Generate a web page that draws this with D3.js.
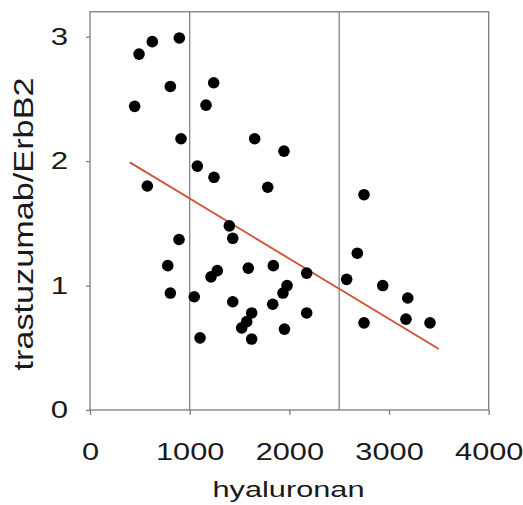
<!DOCTYPE html>
<html>
<head>
<meta charset="utf-8">
<script src="https://cdn.jsdelivr.net/npm/d3@7"></script>
<style>
  body { margin: 0; background: #fff; }
  text { font-family: "Liberation Sans", Arial, sans-serif; fill: #1a1a1a; }
</style>
</head>
<body>
<div id="chart"></div>
<script>
(function(d3) {
  'use strict';

  // data
  var hyaluronan = [492, 625, 896, 806, 1241, 448, 1164, 913, 1652, 1946,
    1077, 1244, 575, 1783, 1398, 1432, 893, 780, 1588, 1839,
    1214, 1277, 806, 1046, 1432, 1833, 1977, 1936, 1622, 1572,
    1522, 1622, 1104, 1951, 2749, 2682, 2174, 2575, 2937, 3188,
    2174, 2749, 3170, 3411];
  var ratio = [2.86, 2.96, 2.99, 2.60, 2.63, 2.44, 2.45, 2.18, 2.18, 2.08,
    1.96, 1.87, 1.80, 1.79, 1.48, 1.38, 1.37, 1.16, 1.14, 1.16,
    1.07, 1.12, 0.94, 0.91, 0.87, 0.85, 1.00, 0.94, 0.78, 0.71,
    0.66, 0.57, 0.58, 0.65, 1.73, 1.26, 1.10, 1.05, 1.00, 0.90,
    0.78, 0.70, 0.73, 0.70];
  var xTicks = [0, 1000, 2000, 3000, 4000];
  var yTicks = [0, 1, 2, 3];
  var refLines = [1000, 2500];
  var trendX = [400, 3500];
  var trendY = [1.99, 0.49];

  var width = 523;
  var height = 505;

  var x = d3.scaleLinear().domain([0, 4000]).range([90, 488.7]);
  var y = d3.scaleLinear().domain([0, 3.2]).range([410, 11.8]);

  var svg = d3.select('#chart')
    .append('svg')
    .attr('width', width)
    .attr('height', height);

  // glyphs in the picture are wider than Liberation Sans
  function stretch(sel, k) {
    sel.each(function() {
      var w = this.getComputedTextLength();
      d3.select(this)
        .attr('textLength', w * k)
        .attr('lengthAdjust', 'spacingAndGlyphs');
    });
  }

  // vertical reference lines
  svg.selectAll('.ref')
    .data(refLines)
    .enter()
    .append('line')
    .attr('class', 'ref')
    .attr('x1', function(d) { return x(d); })
    .attr('x2', function(d) { return x(d); })
    .attr('y1', y(0))
    .attr('y2', y(3.2))
    .attr('stroke', '#858585')
    .attr('stroke-width', 1.3);

  // frame
  svg.append('rect')
    .attr('x', x(0))
    .attr('y', y(3.2))
    .attr('width', x(4000) - x(0))
    .attr('height', y(0) - y(3.2))
    .attr('fill', 'none')
    .attr('stroke', '#7d7d7d')
    .attr('stroke-width', 1.3);

  var fmt = d3.format('d');

  var xAxis = svg.append('g')
    .attr('transform', 'translate(0,' + y(0) + ')')
    .call(d3.axisBottom(x).tickValues(xTicks).tickFormat(fmt).tickSize(5).tickSizeOuter(0));
  xAxis.select('.domain').remove();
  xAxis.selectAll('line').attr('stroke', '#7d7d7d').attr('stroke-width', 1.3);
  xAxis.attr('font-family', null).attr('font-size', null);
  xAxis.selectAll('text')
    .attr('y', 50)
    .attr('dy', null)
    .attr('fill', null)
    .style('font-size', '24px')
    .call(stretch, 1.28);

  var yAxis = svg.append('g')
    .attr('transform', 'translate(' + x(0) + ',0)')
    .call(d3.axisLeft(y).tickValues(yTicks).tickFormat(fmt).tickSize(4).tickPadding(18).tickSizeOuter(0));
  yAxis.select('.domain').remove();
  yAxis.selectAll('line').attr('stroke', '#7d7d7d').attr('stroke-width', 1.3);
  yAxis.attr('font-family', null).attr('font-size', null);
  yAxis.selectAll('text')
    .attr('fill', null)
    .style('font-size', '24px')
    .call(stretch, 1.3);

  // trend line
  svg.append('line')
    .attr('x1', x(trendX[0]))
    .attr('y1', y(trendY[0]))
    .attr('x2', x(trendX[1]))
    .attr('y2', y(trendY[1]))
    .attr('stroke', '#cf5230')
    .attr('stroke-width', 1.8);

  // points
  svg.selectAll('.dot')
    .data(hyaluronan)
    .enter()
    .append('circle')
    .attr('class', 'dot')
    .attr('cx', function(d) { return x(d); })
    .attr('cy', function(d, i) { return y(ratio[i]); })
    .attr('r', 5.8)
    .attr('fill', '#000');

  // axis titles
  svg.append('text')
    .attr('x', 288.5)
    .attr('y', 497)
    .attr('text-anchor', 'middle')
    .style('font-size', '21.5px')
    .attr('textLength', 152)
    .attr('lengthAdjust', 'spacingAndGlyphs')
    .text('hyaluronan');

  svg.append('text')
    .attr('transform', 'translate(33,224) rotate(-90)')
    .attr('text-anchor', 'middle')
    .style('font-size', '27px')
    .attr('textLength', 293)
    .attr('lengthAdjust', 'spacingAndGlyphs')
    .text('trastuzumab/ErbB2');

})(window.d3);
</script>
</body>
</html>
